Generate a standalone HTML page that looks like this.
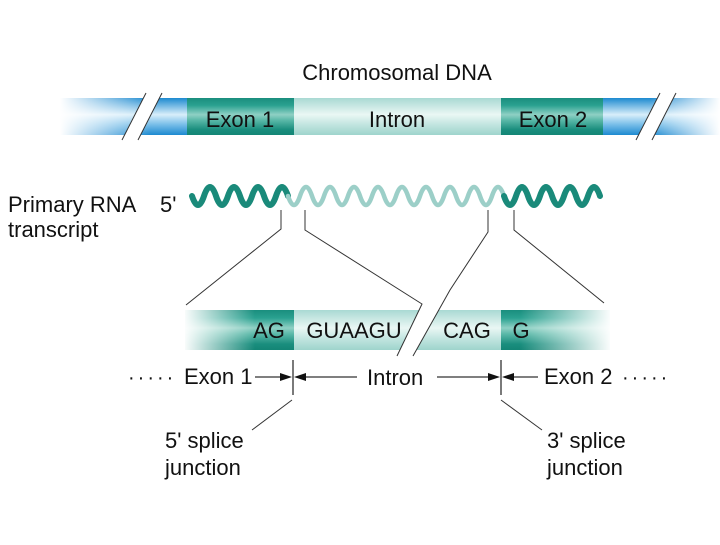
<!DOCTYPE html>
<html><head><style>
body{margin:0;background:#fff}
svg text{font-family:"Liberation Sans",sans-serif;fill:#111}
</style></head><body>
<svg width="720" height="540" viewBox="0 0 720 540" xmlns="http://www.w3.org/2000/svg">
<defs>
<linearGradient id="vd" x1="0" y1="0" x2="0" y2="1">
<stop offset="0" stop-color="#1a8e7e"/><stop offset="0.2" stop-color="#2aa190"/><stop offset="0.45" stop-color="#8fd0c4"/><stop offset="0.6" stop-color="#5ab8a8"/><stop offset="0.85" stop-color="#1a8e7e"/><stop offset="1" stop-color="#138575"/>
</linearGradient>
<linearGradient id="vl" x1="0" y1="0" x2="0" y2="1">
<stop offset="0" stop-color="#a9d9d3"/><stop offset="0.45" stop-color="#eaf7f4"/><stop offset="0.7" stop-color="#c4e6e1"/><stop offset="1" stop-color="#9ed4cc"/>
</linearGradient>
<linearGradient id="vb" x1="0" y1="0" x2="0" y2="1">
<stop offset="0" stop-color="#1d8ad0"/><stop offset="0.45" stop-color="#d8eefa"/><stop offset="0.7" stop-color="#7ec1ea"/><stop offset="1" stop-color="#1d8ad0"/>
</linearGradient>
<linearGradient id="fl" x1="0" y1="0" x2="1" y2="0"><stop offset="0" stop-color="#fff" stop-opacity="1"/><stop offset="1" stop-color="#fff" stop-opacity="0"/></linearGradient>
<linearGradient id="fr" x1="0" y1="0" x2="1" y2="0"><stop offset="0" stop-color="#fff" stop-opacity="0"/><stop offset="1" stop-color="#fff" stop-opacity="1"/></linearGradient>
</defs>

<text x="397" y="80" font-size="22" text-anchor="middle">Chromosomal DNA</text>
<rect x="60" y="98" width="127" height="37" fill="url(#vb)"/>
<rect x="187" y="98" width="107" height="37" fill="url(#vd)"/>
<rect x="294" y="98" width="207" height="37" fill="url(#vl)"/>
<rect x="501" y="98" width="102" height="37" fill="url(#vd)"/>
<rect x="603" y="98" width="117" height="37" fill="url(#vb)"/>
<rect x="60" y="96" width="90" height="41" fill="url(#fl)"/>
<rect x="650" y="96" width="70" height="41" fill="url(#fr)"/>
<polygon points="146,93 162,93 138,140 122,140" fill="#fff"/>
<line x1="146" y1="93" x2="122" y2="140" stroke="#333"/>
<line x1="162" y1="93" x2="138" y2="140" stroke="#333"/>
<polygon points="660,93 676,93 652,140 636,140" fill="#fff"/>
<line x1="660" y1="93" x2="636" y2="140" stroke="#333"/>
<line x1="676" y1="93" x2="652" y2="140" stroke="#333"/>
<text x="240" y="127" font-size="22" text-anchor="middle">Exon 1</text>
<text x="397" y="127" font-size="22" text-anchor="middle">Intron</text>
<text x="553" y="127" font-size="22" text-anchor="middle">Exon 2</text>

<text x="8" y="212" font-size="22">Primary RNA</text>
<text x="8" y="237" font-size="22">transcript</text>
<text x="160" y="212" font-size="22">5'</text>
<path d="M192,196 q6,18 12,0 t12,0 t12,0 t12,0 t12,0 t12,0 t12,0 t12,0" fill="none" stroke="#1a8a7a" stroke-width="6" stroke-linecap="round"/>
<path d="M288,196 q6,18 12,0 t12,0 t12,0 t12,0 t12,0 t12,0 t12,0 t12,0 t12,0 t12,0 t12,0 t12,0 t12,0 t12,0 t12,0 t12,0 t12,0 t12,0" fill="none" stroke="#9ccfc8" stroke-width="4.5" stroke-linecap="round"/>
<path d="M504,196 q6,18 12,0 t12,0 t12,0 t12,0 t12,0 t12,0 t12,0 t12,0" fill="none" stroke="#1a8a7a" stroke-width="6" stroke-linecap="round"/>

<rect x="185" y="310" width="58" height="40" fill="url(#vd)"/>
<rect x="243" y="310" width="51" height="40" fill="url(#vd)"/>
<rect x="294" y="310" width="207" height="40" fill="url(#vl)"/>
<rect x="501" y="310" width="29" height="40" fill="url(#vd)"/>
<rect x="530" y="310" width="80" height="40" fill="url(#vd)"/>
<rect x="183" y="308" width="72" height="44" fill="url(#fl)"/>
<rect x="520" y="308" width="92" height="44" fill="url(#fr)"/>
<polygon points="422,304 450,290 413,356 397,356" fill="#fff"/>

<g stroke="#333" stroke-width="1" fill="none">
<polyline points="281,210 281,229 186,305"/>
<polyline points="305,210 305,230 422,304 397,356"/>
<polyline points="488,210 488,232 450,290 413,356"/>
<polyline points="514,210 514,230 604,303"/>
</g>
<text x="269" y="338" font-size="22" text-anchor="middle">AG</text>
<text x="354" y="338" font-size="22" text-anchor="middle">GUAAGU</text>
<text x="467" y="338" font-size="22" text-anchor="middle">CAG</text>
<text x="521" y="338" font-size="22" text-anchor="middle">G</text>

<text x="128" y="384" font-size="20" letter-spacing="3">·····</text>
<text x="184" y="384" font-size="22">Exon 1</text>
<text x="367" y="385" font-size="22">Intron</text>
<text x="544" y="384" font-size="22">Exon 2</text>
<text x="622" y="384" font-size="20" letter-spacing="3">·····</text>
<g stroke="#333" stroke-width="1.3">
<line x1="293" y1="360" x2="293" y2="395"/>
<line x1="501" y1="360" x2="501" y2="395"/>
<line x1="255" y1="377" x2="283" y2="377"/>
<line x1="303" y1="377" x2="357" y2="377"/>
<line x1="437" y1="377" x2="491" y2="377"/>
<line x1="511" y1="377" x2="538" y2="377"/>
<line x1="292" y1="400" x2="252" y2="430" stroke-width="1"/>
<line x1="501" y1="400" x2="542" y2="430" stroke-width="1"/>
</g>
<g fill="#111">
<polygon points="292,377 280,373 280,381"/>
<polygon points="294,377 306,373 306,381"/>
<polygon points="500,377 488,373 488,381"/>
<polygon points="502,377 514,373 514,381"/>
</g>
<text x="165" y="448" font-size="22">5' splice</text>
<text x="165" y="475" font-size="22">junction</text>
<text x="547" y="448" font-size="22">3' splice</text>
<text x="547" y="475" font-size="22">junction</text>
</svg>
</body></html>
